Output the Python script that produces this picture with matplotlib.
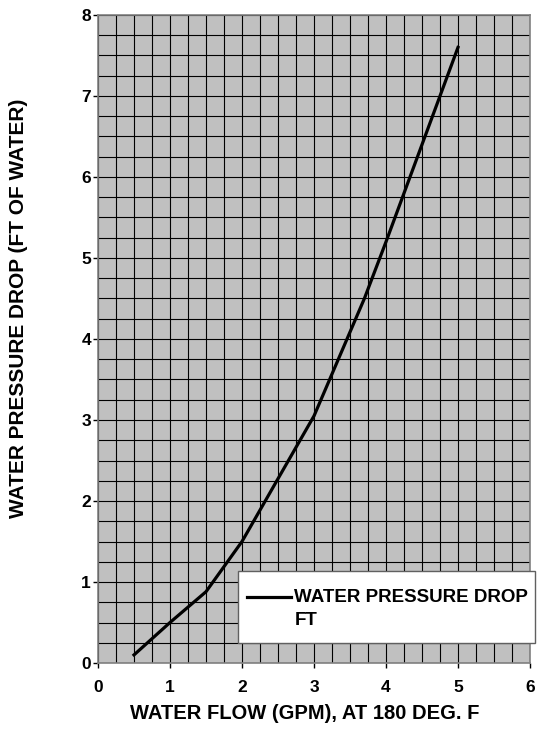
import matplotlib.pyplot as plt
from matplotlib.ticker import MultipleLocator
from matplotlib.patches import Rectangle

# datos
flujo = [0.5, 1.0, 1.5, 2.0, 3.0, 3.7, 4.0, 5.0]
caida = [0.1, 0.5, 0.88, 1.5, 3.05, 4.5, 5.2, 7.6]

plt.rcParams['font.family'] = 'Liberation Sans'
plt.rcParams['font.weight'] = 'bold'

fig = plt.figure(figsize=(5.48, 7.4), dpi=100)
ax = fig.add_axes([98/548, 1 - 663/740, 432/548, 648/740])
ax.set_facecolor('#c0c0c0')

ax.plot(flujo, caida, color='black', linewidth=2.3, label='WATER PRESSURE DROP\nFT', zorder=3)

ax.set_xlim(0, 6)
ax.set_ylim(0, 8)
ax.xaxis.set_major_locator(MultipleLocator(1))
ax.yaxis.set_major_locator(MultipleLocator(1))
ax.xaxis.set_minor_locator(MultipleLocator(0.25))
ax.yaxis.set_minor_locator(MultipleLocator(0.25))
ax.grid(which='both', color='black', linewidth=0.8)
ax.set_axisbelow(True)
ax.tick_params(which='minor', length=0)
ax.tick_params(which='major', length=3.6, width=1, color='black', labelsize=12.5)
ax.tick_params(axis='x', pad=9)
ax.tick_params(axis='y', pad=1.5)
for lbl in ax.get_xticklabels() + ax.get_yticklabels():
    lbl.set_fontweight('bold')
for s in ax.spines.values():
    s.set_color('#808080')
    s.set_linewidth(1.2)

ax.set_xlabel('WATER FLOW (GPM), AT 180 DEG. F', fontsize=14.5, fontweight='bold')
ax.set_ylabel('WATER PRESSURE DROP (FT OF WATER)', fontsize=15, fontweight='bold')
ax.xaxis.set_label_coords((305 - 98) / 432, (663 - 704) / 648)
ax.yaxis.set_label_coords((28 - 98) / 432, (663 - 308) / 648)

# recuadro de la leyenda
caja = Rectangle((238/548, 1 - 643/740), 297/548, 72/740, transform=fig.transFigure,
                 facecolor='white', edgecolor='#606060', linewidth=1, clip_on=False, zorder=4)
ax.add_patch(caja)

leg = ax.legend(loc='upper left', bbox_to_anchor=(238/548, 1 - 580/740), bbox_transform=fig.transFigure,
                frameon=False, borderaxespad=0, prop={'family': 'Liberation Sans', 'weight': 'bold', 'size': 13.5},
                handlelength=2.35, handleheight=0.9, handletextpad=0.16, borderpad=0.5)
leg.set_zorder(5)
for t in leg.get_texts():
    t.set_linespacing(1.45)
# linea de la leyenda a la altura del primer renglon
for col in leg._legend_handle_box.get_children():
    for hp in col.get_children():
        hp.align = 'top'

plt.savefig('out.png', dpi=100)
